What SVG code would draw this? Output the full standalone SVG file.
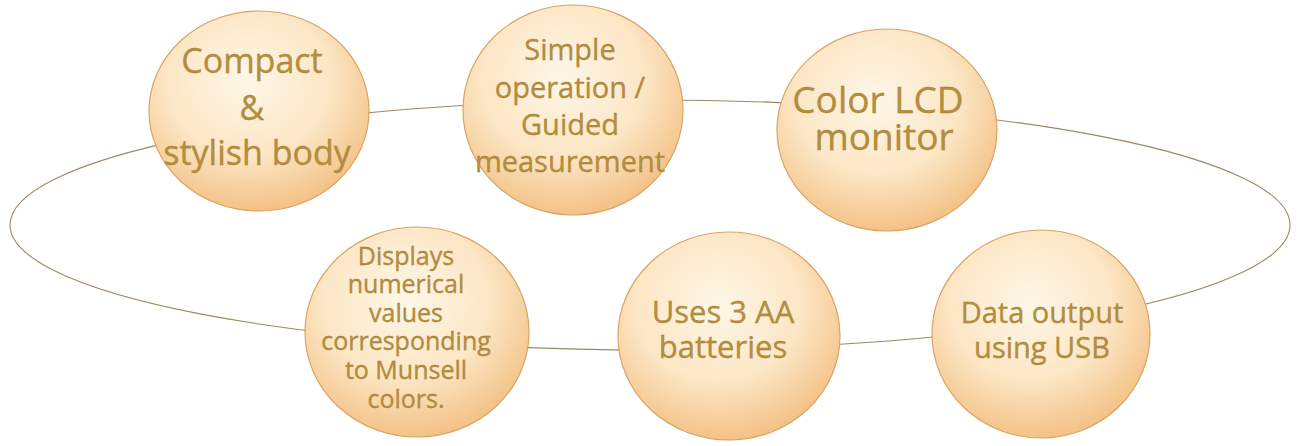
<svg xmlns="http://www.w3.org/2000/svg" width="1298" height="446" viewBox="0 0 1298 446">
<defs>
<radialGradient id="g" cx="45%" cy="35%" r="68%">
<stop offset="0" stop-color="#fef7e8"/>
<stop offset="0.55" stop-color="#fce6c4"/>
<stop offset="1" stop-color="#f2be80"/>
</radialGradient>
</defs>
<style>
.c{fill:url(#g);stroke:#d9a464;stroke-width:1.2}
.t{font-family:"Open Sans","Noto Sans",sans-serif;fill:#b58e3e;text-anchor:middle;stroke:#a07a30;stroke-width:0.3}
.ring{fill:none;stroke:#9c8866;stroke-width:1.1}
</style>
<rect width="1298" height="446" fill="#ffffff"/>
<g id="connectors">
<ellipse class="ring" cx="650" cy="225" rx="640" ry="125"/>
</g>
<g id="n1">
<ellipse class="c" cx="259" cy="111" rx="110" ry="100"/>
<text class="t" font-size="34"><tspan x="252" y="73">Compact</tspan><tspan x="252" y="120">&amp;</tspan><tspan x="257" y="165">stylish body</tspan></text>
</g>
<g id="n2">
<ellipse class="c" cx="573" cy="110" rx="110" ry="105"/>
<text class="t" font-size="29"><tspan x="570" y="60">Simple</tspan><tspan x="570" y="98">operation /</tspan><tspan x="570" y="135">Guided</tspan><tspan x="570" y="172">measurement</tspan></text>
</g>
<g id="n3">
<ellipse class="c" cx="887" cy="130" rx="110" ry="101"/>
<text class="t" font-size="37"><tspan x="878" y="113">Color LCD</tspan><tspan x="884" y="150">monitor</tspan></text>
</g>
<g id="n4">
<ellipse class="c" cx="417" cy="332" rx="112" ry="105"/>
<text class="t" font-size="25"><tspan x="406" y="265">Displays</tspan><tspan x="406" y="293">numerical</tspan><tspan x="406" y="322">values</tspan><tspan x="406" y="350">corresponding</tspan><tspan x="406" y="379">to Munsell</tspan><tspan x="406" y="408">colors.</tspan></text>
</g>
<g id="n5">
<ellipse class="c" cx="729" cy="336" rx="111" ry="104"/>
<text class="t" font-size="31"><tspan x="723" y="323">Uses 3 AA</tspan><tspan x="723" y="358">batteries</tspan></text>
</g>
<g id="n6">
<ellipse class="c" cx="1041" cy="334" rx="109" ry="104"/>
<text class="t" font-size="29"><tspan x="1042" y="323">Data output</tspan><tspan x="1042" y="358">using USB</tspan></text>
</g>
</svg>
